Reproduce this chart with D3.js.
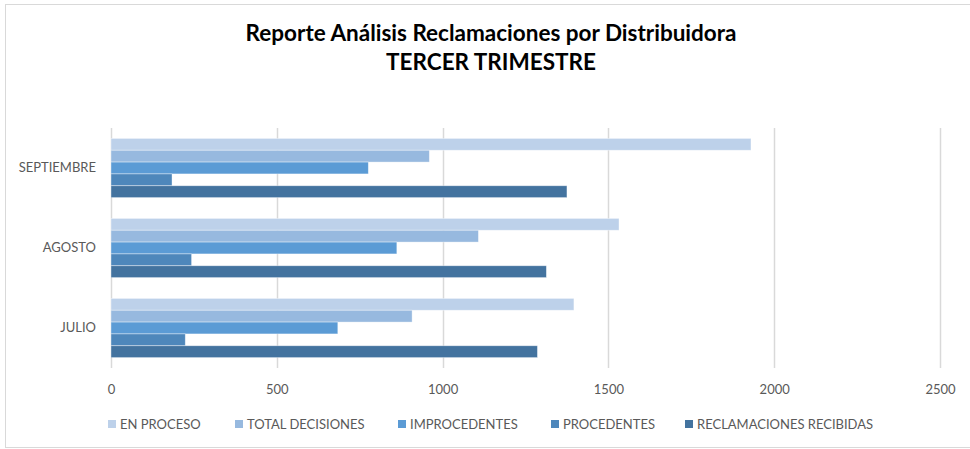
<!DOCTYPE html>
<html>
<head>
<meta charset="utf-8">
<script src="https://cdn.jsdelivr.net/npm/d3@7"></script>
<style>
    body { margin: 0; background: #fff; }
    svg text { font-family: Lato, "Open Sans", sans-serif; }
</style>
</head>
<body>
<div id="chart"></div>
<script>
// months, top to bottom as drawn
const months = ['SEPTIEMBRE', 'AGOSTO', 'JULIO'];
const seriesNames = ['EN PROCESO', 'TOTAL DECISIONES', 'IMPROCEDENTES', 'PROCEDENTES', 'RECLAMACIONES RECIBIDAS'];
const enProceso = [1930, 1532, 1396];
const totalDecisiones = [960, 1108, 908];
const improcedentes = [776, 862, 684];
const procedentes = [184, 243, 224];
const reclamacionesRecibidas = [1375, 1313, 1286];
const xTicks = [0, 500, 1000, 1500, 2000, 2500];
const colors = ['#bdd1ea', '#97b9df', '#5b9bd5', '#4e87bb', '#43739f'];

const seriesValues = [enProceso, totalDecisiones, improcedentes, procedentes, reclamacionesRecibidas];

const svgWidth = 970, svgHeight = 449;
const margin = {top: 128, right: 30, bottom: 81, left: 111};
const width = 940 - margin.left;
const height = 368 - margin.top;

const svg = d3.select('#chart').append('svg')
    .attr('width', svgWidth)
    .attr('height', svgHeight);

// chart border
svg.append('rect')
    .attr('x', 5.5).attr('y', 4.5)
    .attr('width', 980).attr('height', 443)
    .attr('fill', 'none')
    .attr('stroke', '#d9d9d9');

// title
const title = svg.append('text')
    .attr('text-anchor', 'middle')
    .attr('font-weight', 'bold')
    .attr('font-size', 22.5)
    .attr('fill', '#000');
title.append('tspan').attr('x', 491).attr('y', 41).text('Reporte Análisis Reclamaciones por Distribuidora');
title.append('tspan').attr('x', 491).attr('y', 70).text('TERCER TRIMESTRE');

const x = d3.scaleLinear().domain([0, 2500]).range([0, width]);
const y0 = d3.scaleBand().domain(months).range([0, height]).paddingInner(0.26).paddingOuter(0.13);
const y1 = d3.scaleBand().domain(seriesNames).range([0, y0.bandwidth()]);

const g = svg.append('g').attr('transform', `translate(${margin.left},${margin.top})`);

// gridlines
g.append('g').selectAll('line')
    .data(xTicks)
    .enter().append('line')
    .attr('x1', d => Math.round(x(d)) + 0.5)
    .attr('x2', d => Math.round(x(d)) + 0.5)
    .attr('y1', 0).attr('y2', height)
    .attr('stroke', '#d9d9d9')
    .attr('stroke-width', 1.5);

// bars
const rows = months.map((m, i) => ({month: m, values: seriesNames.map((s, j) => ({series: s, value: seriesValues[j][i], color: colors[j]}))}));

const groups = g.selectAll('.group')
    .data(rows)
    .enter().append('g')
    .attr('class', 'group')
    .attr('transform', d => `translate(0,${y0(d.month)})`);

groups.selectAll('rect')
    .data(d => d.values)
    .enter().append('rect')
    .attr('x', 0)
    .attr('y', d => y1(d.series))
    .attr('height', y1.bandwidth())
    .attr('width', d => x(d.value))
    .attr('fill', d => d.color)
    .attr('stroke', '#ffffff')
    .attr('stroke-opacity', 0.5)
    .attr('stroke-width', 0.75);

// x axis
const xAxis = d3.axisBottom(x).tickValues(xTicks).tickFormat(d3.format('d')).tickSize(0).tickPadding(17);
const xAxisGroup = g.append('g')
    .attr('transform', `translate(0,${height})`)
    .call(xAxis);
xAxisGroup.select('.domain').remove();
xAxisGroup.selectAll('text').attr('font-size', 13).attr('fill', '#595959');

// y axis
const yAxis = d3.axisLeft(y0).tickSize(0).tickPadding(15);
const yAxisGroup = g.append('g').call(yAxis);
yAxisGroup.select('.domain').remove();
yAxisGroup.selectAll('text').attr('font-size', 13).attr('fill', '#595959');

// legend
const legendX = [108, 235, 398, 551, 685];
const legend = svg.append('g').selectAll('g')
    .data(seriesNames)
    .enter().append('g')
    .attr('transform', (d, i) => `translate(${legendX[i]},424)`);
legend.append('rect')
    .attr('x', 0).attr('y', -4)
    .attr('width', 8).attr('height', 8)
    .attr('fill', (d, i) => colors[i]);
legend.append('text')
    .attr('x', 12)
    .attr('dy', '0.35em')
    .attr('font-size', 13)
    .attr('fill', '#595959')
    .text(d => d);
</script>
</body>
</html>
